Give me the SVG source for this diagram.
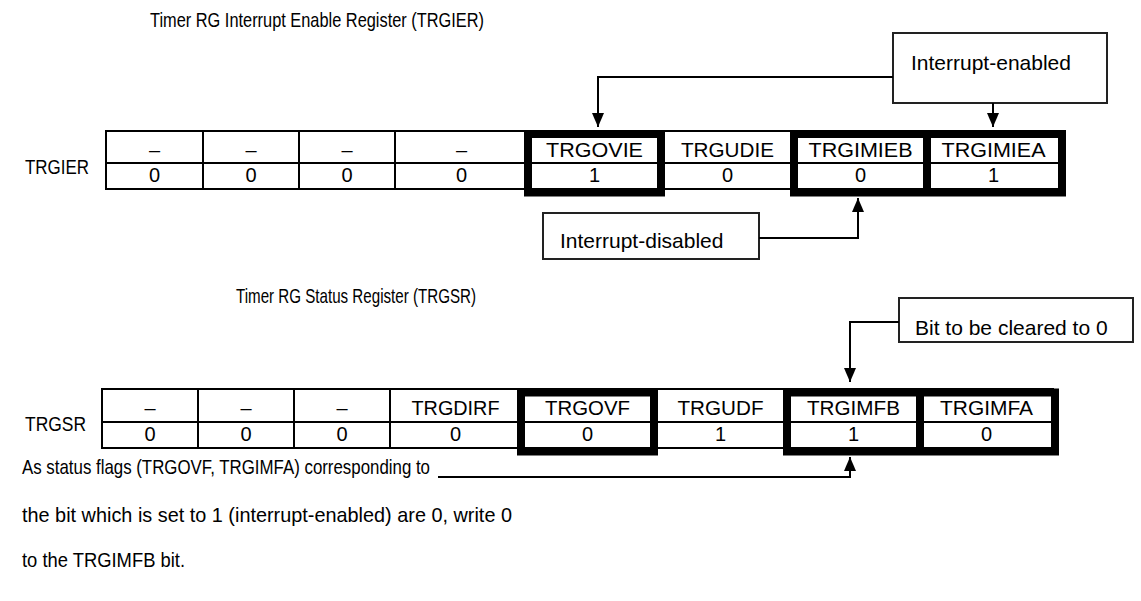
<svg xmlns="http://www.w3.org/2000/svg" width="1141" height="601" viewBox="0 0 1141 601">
<defs>
<style>
text{font-family:"Liberation Sans",Arial,sans-serif;fill:#000}
.narrow{font-family:"Liberation Sans Narrow","Liberation Sans",Arial,sans-serif;font-size:21px}
.cell{font-size:20px;text-anchor:middle}
.lbl{font-size:21px}
.thin{fill:none;stroke:#000;stroke-width:2}
.thick{fill:none;stroke:#000;stroke-width:8}
.box{fill:#fff;stroke:#222;stroke-width:2}
.conn{fill:none;stroke:#000;stroke-width:2}
</style>
<marker id="arr" markerUnits="userSpaceOnUse" markerWidth="14" markerHeight="12" refX="14" refY="6" orient="auto">
<path d="M0,0 L14,6 L0,12 z" fill="#000"/>
</marker>
</defs>
<rect width="1141" height="601" fill="#fff"/>

<g id="title-trgier"><text class="narrow" x="150" y="27" textLength="334" lengthAdjust="spacingAndGlyphs">Timer RG Interrupt Enable Register (TRGIER)</text></g>
<g id="label-trgier"><text class="narrow" x="25" y="174" textLength="64" lengthAdjust="spacingAndGlyphs">TRGIER</text></g>

<g id="reg-trgier">
<rect class="thin" x="106" y="131" width="954" height="58"/>
<line class="thin" x1="106" y1="163" x2="1060" y2="163"/>
<path class="thin" d="M203,131V189M299,131V189M395,131V189M661,131V189"/>
<text class="cell" x="154.5" y="157">–</text>
<text class="cell" x="251" y="157">–</text>
<text class="cell" x="347" y="157">–</text>
<text class="cell" x="461.5" y="157">–</text>
<text class="cell" x="594.5" y="157" textLength="97" lengthAdjust="spacingAndGlyphs">TRGOVIE</text>
<text class="cell" x="727.5" y="157" textLength="93" lengthAdjust="spacingAndGlyphs">TRGUDIE</text>
<text class="cell" x="860.5" y="157" textLength="104" lengthAdjust="spacingAndGlyphs">TRGIMIEB</text>
<text class="cell" x="993.5" y="157" textLength="104" lengthAdjust="spacingAndGlyphs">TRGIMIEA</text>
<text class="cell" x="154.5" y="182">0</text>
<text class="cell" x="251" y="182">0</text>
<text class="cell" x="347" y="182">0</text>
<text class="cell" x="461.5" y="182">0</text>
<text class="cell" x="594.5" y="182">1</text>
<text class="cell" x="727.5" y="182">0</text>
<text class="cell" x="860.5" y="182">0</text>
<text class="cell" x="993.5" y="182">1</text>
<rect class="thick" x="528" y="134" width="133" height="58.5"/>
<rect class="thick" x="794" y="134" width="268" height="58.5"/>
<line class="thick" x1="927" y1="134" x2="927" y2="192.5"/>
</g>

<g id="box-enabled">
<rect class="box" x="893" y="33" width="214" height="70"/>
<text class="lbl" x="911" y="70">Interrupt-enabled</text>
</g>

<g id="box-disabled">
<rect class="box" x="543" y="213" width="216" height="46"/>
<text class="lbl" x="560" y="248">Interrupt-disabled</text>
</g>

<g id="title-trgsr"><text class="narrow" x="236" y="303" textLength="240" lengthAdjust="spacingAndGlyphs">Timer RG Status Register (TRGSR)</text></g>

<g id="box-cleared">
<rect class="box" x="899" y="298" width="234" height="44"/>
<text class="lbl" x="915" y="335">Bit to be cleared to 0</text>
</g>

<g id="label-trgsr"><text class="narrow" x="25" y="431" textLength="61" lengthAdjust="spacingAndGlyphs">TRGSR</text></g>

<g id="reg-trgsr">
<rect class="thin" x="102" y="389" width="951" height="59"/>
<line class="thin" x1="102" y1="422" x2="1053" y2="422"/>
<path class="thin" d="M198,389V448M294,389V448M390,389V448M521,389V448M654,389V448"/>
<text class="cell" x="150" y="415">–</text>
<text class="cell" x="246" y="415">–</text>
<text class="cell" x="342" y="415">–</text>
<text class="cell" x="455.5" y="415" textLength="88" lengthAdjust="spacingAndGlyphs">TRGDIRF</text>
<text class="cell" x="587.5" y="415" textLength="85" lengthAdjust="spacingAndGlyphs">TRGOVF</text>
<text class="cell" x="720.5" y="415" textLength="86" lengthAdjust="spacingAndGlyphs">TRGUDF</text>
<text class="cell" x="853.5" y="415" textLength="93" lengthAdjust="spacingAndGlyphs">TRGIMFB</text>
<text class="cell" x="986.5" y="415" textLength="93" lengthAdjust="spacingAndGlyphs">TRGIMFA</text>
<text class="cell" x="150" y="441">0</text>
<text class="cell" x="246" y="441">0</text>
<text class="cell" x="342" y="441">0</text>
<text class="cell" x="455.5" y="441">0</text>
<text class="cell" x="587.5" y="441">0</text>
<text class="cell" x="720.5" y="441">1</text>
<text class="cell" x="853.5" y="441">1</text>
<text class="cell" x="986.5" y="441">0</text>
<rect class="thick" x="521" y="392.5" width="133" height="59"/>
<rect class="thick" x="787" y="392.5" width="268" height="59"/>
<line class="thick" x1="920" y1="392.5" x2="920" y2="451.5"/>
</g>

<g id="note">
<text class="narrow" x="22" y="474" textLength="408" lengthAdjust="spacingAndGlyphs">As status flags (TRGOVF, TRGIMFA) corresponding to</text>
<text class="narrow" x="22" y="522" textLength="490" lengthAdjust="spacingAndGlyphs">the bit which is set to 1 (interrupt-enabled) are 0, write 0</text>
<text class="narrow" x="22" y="567" textLength="163" lengthAdjust="spacingAndGlyphs">to the TRGIMFB bit.</text>
</g>

<g id="connectors">
<path class="conn" d="M893,77H598V127" marker-end="url(#arr)"/>
<path class="conn" d="M993,103V127" marker-end="url(#arr)"/>
<path class="conn" d="M759,238H858V198" marker-end="url(#arr)"/>
<path class="conn" d="M899,322H850V382" marker-end="url(#arr)"/>
<path class="conn" d="M438,477H850V457" marker-end="url(#arr)"/>
</g>
</svg>
